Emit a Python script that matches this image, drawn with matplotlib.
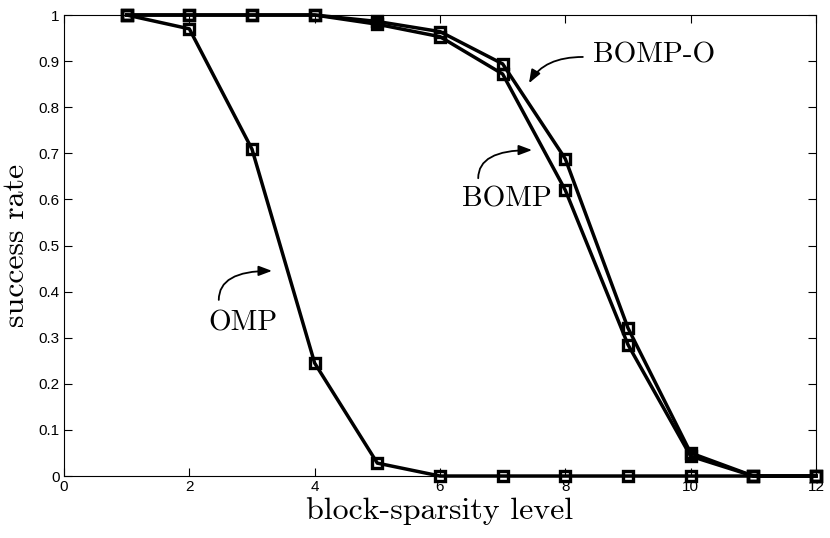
import matplotlib

matplotlib.use("Agg")
import matplotlib.pyplot as plt

# sparsity levels and success rates
levels = [1, 2, 3, 4, 5, 6, 7, 8, 9, 10, 11, 12]
omp = [1.0, 0.97, 0.709, 0.245, 0.028, 0.0, 0.0, 0.0, 0.0, 0.0, 0.0, 0.0]
bomp = [1.0, 1.0, 1.0, 1.0, 0.98, 0.953, 0.872, 0.62, 0.285, 0.043, 0.0, 0.0]
bomp_o = [1.0, 1.0, 1.0, 1.0, 0.986, 0.964, 0.894, 0.688, 0.321, 0.05, 0.0, 0.0]

xticks = [0, 2, 4, 6, 8, 10, 12]
yticks = [0, 0.1, 0.2, 0.3, 0.4, 0.5, 0.6, 0.7, 0.8, 0.9, 1]
ytick_labels = ["0", "0.1", "0.2", "0.3", "0.4", "0.5", "0.6", "0.7", "0.8", "0.9", "1"]

TICK_FONT = ["Liberation Sans Narrow", "Liberation Sans", "DejaVu Sans"]
LABEL_FONT = ["cmr10", "Liberation Serif"]

fig = plt.figure(figsize=(8.3, 5.38), dpi=100)
ax = fig.add_axes([0.0771, 0.1152, 0.906, 0.8569])

for series in (omp, bomp, bomp_o):
    ax.plot(levels, series, color="black", linewidth=2.5, marker="s",
            markersize=6.5, markerfacecolor="none", markeredgecolor="black",
            markeredgewidth=2.4, clip_on=False, zorder=3)

ax.set_xlim(0, 12)
ax.set_ylim(0, 1)
ax.set_xticks(xticks)
ax.set_xticklabels([str(t) for t in xticks], family=TICK_FONT, fontsize=11)
ax.set_yticks(yticks)
ax.set_yticklabels(ytick_labels, family=TICK_FONT, fontsize=11)
ax.tick_params(direction="in", top=True, right=True, length=6, width=0.8, pad=3)
for s in ax.spines.values():
    s.set_linewidth(0.8)

ax.set_xlabel("block-sparsity level", family=LABEL_FONT, fontsize=23, labelpad=2)
ax.set_ylabel("success rate", family=LABEL_FONT, fontsize=23, labelpad=6)

arrow = dict(arrowstyle="-|>,head_length=0.8,head_width=0.3", color="black",
             lw=1.3, shrinkA=0, shrinkB=0)

ax.text(8.44, 0.913, "BOMP-O", family=LABEL_FONT, fontsize=21, ha="left", va="center")
ax.annotate("", xy=(7.42, 0.852), xytext=(8.28, 0.909),
            arrowprops=dict(arrow, connectionstyle="angle3,angleA=0,angleB=60"))

ax.text(6.35, 0.600, "BOMP", family=LABEL_FONT, fontsize=21, ha="left", va="center")
ax.annotate("", xy=(7.47, 0.707), xytext=(6.61, 0.646),
            arrowprops=dict(arrow, connectionstyle="angle3,angleA=90,angleB=0"))

ax.text(2.30, 0.332, "OMP", family=LABEL_FONT, fontsize=21, ha="left", va="center")
ax.annotate("", xy=(3.32, 0.445), xytext=(2.47, 0.382),
            arrowprops=dict(arrow, connectionstyle="angle3,angleA=90,angleB=0"))

fig.savefig("out.png", dpi=100)
